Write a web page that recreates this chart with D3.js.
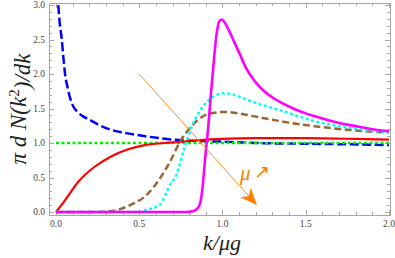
<!DOCTYPE html>
<html>
<head>
<meta charset="utf-8">
<script src="https://cdn.jsdelivr.net/npm/d3@7"></script>
<style>
body { margin: 0; background: #fff; }
svg { display: block; }
</style>
</head>
<body>
<div id="chart"></div>
<script>
// values
var kBlue = [0.014, 0.022, 0.034, 0.044, 0.054, 0.07, 0.085, 0.104, 0.13, 0.16, 0.2, 0.26, 0.334, 0.43, 0.534, 0.7, 0.85, 1.0, 1.2, 1.5, 1.8, 2.0];
var yBlue = [3.0, 2.75, 2.52, 2.25, 2.01, 1.8, 1.65, 1.53, 1.45, 1.39, 1.34, 1.26, 1.19, 1.14, 1.10, 1.05, 1.03, 1.02, 1.0, 0.99, 0.98, 0.97];

var kGreen = [0, 2.0];
var yGreen = [1.0, 1.0];

var kRed = [0, 0.054, 0.134, 0.234, 0.334, 0.434, 0.534, 0.705, 0.85, 1.0, 1.2, 1.5, 1.8, 2.0];
var yRed = [0, 0.17, 0.44, 0.66, 0.81, 0.91, 0.97, 1.01, 1.04, 1.06, 1.07, 1.07, 1.06, 1.05];

var kBrown = [0, 0.2, 0.3, 0.37, 0.445, 0.545, 0.625, 0.685, 0.745, 0.805, 0.885, 0.95, 1.01, 1.07, 1.185, 1.365, 1.565, 1.765, 2.0];
var yBrown = [0, 0, 0.005, 0.03, 0.10, 0.25, 0.49, 0.73, 1.02, 1.22, 1.39, 1.44, 1.45, 1.44, 1.39, 1.31, 1.24, 1.19, 1.15];

var kCyan = [0, 0.4, 0.5, 0.545, 0.625, 0.685, 0.725, 0.765, 0.805, 0.865, 0.945, 1.0, 1.05, 1.165, 1.365, 1.565, 1.765, 2.0];
var yCyan = [0, 0, 0.005, 0.03, 0.11, 0.39, 0.55, 0.88, 1.18, 1.47, 1.67, 1.72, 1.71, 1.61, 1.46, 1.31, 1.22, 1.15];

var kMag = [0, 0.78, 0.82, 0.845, 0.865, 0.88, 0.895, 0.915, 0.93, 0.945, 0.965, 0.98, 0.995, 1.015, 1.045, 1.075, 1.1, 1.145, 1.2, 1.25, 1.3, 1.365, 1.435, 1.5, 1.565, 1.635, 1.7, 1.765, 1.835, 1.9, 2.0];
var yMag = [0, 0, 0.01, 0.04, 0.12, 0.35, 0.76, 1.25, 1.70, 2.11, 2.59, 2.76, 2.79, 2.74, 2.60, 2.44, 2.31, 2.07, 1.88, 1.75, 1.66, 1.57, 1.49, 1.43, 1.38, 1.33, 1.29, 1.26, 1.23, 1.20, 1.17];

var xTicks = [0, 0.5, 1.0, 1.5, 2.0];
var yTicks = [0, 0.5, 1.0, 1.5, 2.0, 2.5, 3.0];
var arrowFrom = [0.5, 2.0];
var arrowTo = [1.207, 0.10];
var muPos = [1.105, 0.47];

var W = 395, H = 258;
var mLeft = 49, mRight = 390, mTop = 3, mBottom = 215;

var svg = d3.select("#chart").append("svg")
    .attr("width", W)
    .attr("height", H);

var x = d3.scaleLinear().domain([-0.042, 2.006]).range([mLeft, mRight]);
var y = d3.scaleLinear().domain([-0.043, 3.03]).range([mBottom, mTop]);

// frame
svg.append("rect")
    .attr("x", mLeft + 0.5).attr("y", mTop + 0.5)
    .attr("width", mRight - mLeft).attr("height", mBottom - mTop)
    .attr("fill", "none")
    .attr("stroke", "#a6a6a6")
    .attr("stroke-width", 1);

var minorX = d3.range(0, 2.001, 0.1);
var minorY = d3.range(0, 3.001, 0.1);

function isMajor(v) { return Math.abs(v * 2 - Math.round(v * 2)) < 1e-6; }

// inward ticks on all four sides
var tickG = svg.append("g").attr("stroke", "#a6a6a6").attr("stroke-width", 1);
minorX.forEach(function(v) {
  var len = isMajor(v) ? 5 : 3, px = Math.round(x(v)) + 0.5;
  tickG.append("line").attr("x1", px).attr("x2", px).attr("y1", mBottom).attr("y2", mBottom - len);
  tickG.append("line").attr("x1", px).attr("x2", px).attr("y1", mTop).attr("y2", mTop + len);
});
minorY.forEach(function(v) {
  var len = isMajor(v) ? 5 : 3, py = Math.round(y(v)) + 0.5;
  tickG.append("line").attr("x1", mLeft).attr("x2", mLeft + len).attr("y1", py).attr("y2", py);
  tickG.append("line").attr("x1", mRight).attr("x2", mRight - len).attr("y1", py).attr("y2", py);
});

// tick labels
svg.append("g").selectAll("text").data(xTicks).enter().append("text")
    .attr("x", function(d) { return x(d); })
    .attr("y", 227)
    .attr("text-anchor", "middle")
    .style("font-family", "Liberation Serif, serif")
    .style("font-size", "9.5px")
    .attr("fill", "#444")
    .text(function(d) { return d.toFixed(1); });

svg.append("g").selectAll("text").data(yTicks).enter().append("text")
    .attr("x", 45)
    .attr("y", function(d) { return y(d); })
    .attr("dy", "0.33em")
    .attr("text-anchor", "end")
    .style("font-family", "Liberation Serif, serif")
    .style("font-size", "9.5px")
    .attr("fill", "#444")
    .text(function(d) { return d.toFixed(1); });

// curves
svg.append("defs").append("clipPath").attr("id", "plot")
    .append("rect").attr("x", mLeft).attr("y", mTop).attr("width", mRight - mLeft).attr("height", mBottom - mTop);

var line = d3.line()
    .x(function(d) { return x(d[0]); })
    .y(function(d) { return y(d[1]); })
    .curve(d3.curveMonotoneX);

var series = [
  { k: kBlue, v: yBlue, color: "#0000ff", width: 2.5, dash: "9,3.5" },
  { k: kGreen, v: yGreen, color: "#00ee00", width: 2.4, dash: "3,2.5" },
  { k: kRed, v: yRed, color: "#ff0000", width: 2.2, dash: null },
  { k: kBrown, v: yBrown, color: "#996633", width: 2.5, dash: "7,3.5" },
  { k: kCyan, v: yCyan, color: "#00ffff", width: 2.5, dash: "3,2.5" },
  { k: kMag, v: yMag, color: "#ff00ff", width: 2.6, dash: null }
];

var plotG = svg.append("g").attr("clip-path", "url(#plot)");
series.forEach(function(s) {
  plotG.append("path")
    .attr("d", line(d3.zip(s.k, s.v)))
    .attr("fill", "none")
    .attr("stroke", s.color)
    .attr("stroke-width", s.width)
    .attr("stroke-dasharray", s.dash);
});

// orange arrow
var ax1 = x(arrowFrom[0]), ay1 = y(arrowFrom[1]), ax2 = x(arrowTo[0]), ay2 = y(arrowTo[1]);
var ang = Math.atan2(ay2 - ay1, ax2 - ax1);
var headLen = 17, headW = 7;
svg.append("line")
    .attr("x1", ax1).attr("y1", ay1)
    .attr("x2", ax2 - Math.cos(ang) * 10).attr("y2", ay2 - Math.sin(ang) * 10)
    .attr("stroke", "#ff8c1a")
    .attr("stroke-width", 1);
var hp = d3.path();
hp.moveTo(0, 0);
hp.lineTo(-headLen, -headW);
hp.lineTo(-headLen * 0.72, 0);
hp.lineTo(-headLen, headW);
hp.closePath();
svg.append("path")
    .attr("d", hp.toString())
    .attr("transform", "translate(" + ax2 + "," + ay2 + ") rotate(" + (ang * 180 / Math.PI) + ")")
    .attr("fill", "#ff8000");

svg.append("text")
    .attr("x", x(muPos[0]))
    .attr("y", y(muPos[1]))
    .style("font-family", "Liberation Serif, serif")
    .style("font-style", "italic")
    .style("font-size", "21px")
    .attr("fill", "#ff8000")
    .text("\u03bc");
svg.append("text")
    .attr("x", x(muPos[0]) + 14)
    .attr("y", y(muPos[1]) - 2)
    .style("font-family", "DejaVu Sans, sans-serif")
    .style("font-size", "19px")
    .attr("fill", "#ff8000")
    .text("\u2197");

// axis labels
svg.append("text")
    .attr("x", 222).attr("y", 250)
    .attr("text-anchor", "middle")
    .style("font-family", "Liberation Serif, serif")
    .style("font-style", "italic")
    .style("font-size", "22px")
    .attr("fill", "#222")
    .text("k/\u03bcg");

var yl = svg.append("text")
    .attr("transform", "translate(26," + ((mTop + mBottom) / 2) + ") rotate(-90)")
    .attr("text-anchor", "middle")
    .style("font-family", "Liberation Serif, serif")
    .style("font-style", "italic")
    .style("font-size", "23px")
    .attr("fill", "#222");
yl.append("tspan").text("\u03c0 d N(k");
yl.append("tspan").attr("dy", "-0.45em").style("font-size", "15px").style("font-style", "normal").text("2");
yl.append("tspan").attr("dy", "0.45em").text(")/dk");
</script>
</body>
</html>
